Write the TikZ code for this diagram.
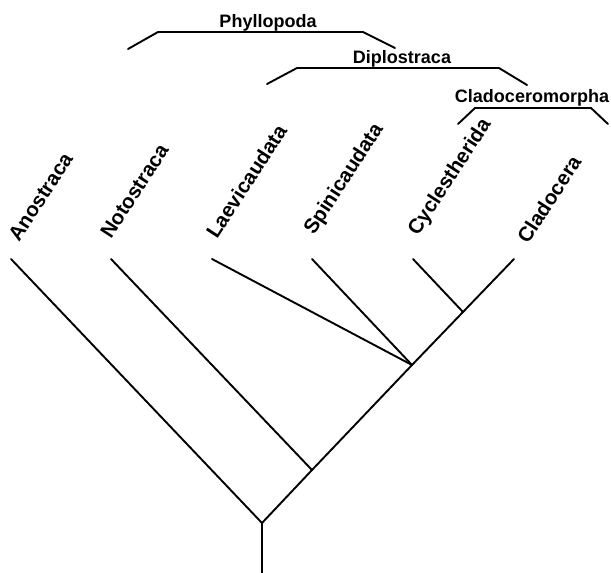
\documentclass[tikz,border=0pt]{standalone}
\usepackage{fontspec}
\setmainfont{Liberation Sans}
\usetikzlibrary{positioning, calc}

\begin{document}
\begin{tikzpicture}[x=1pt, y=-1pt, line cap=round,
    branch/.style={line width=1.9pt},
    bracket/.style={line width=1.9pt},
    taxon/.style={font=\fontsize{20.5}{24}\selectfont\bfseries, rotate=57, anchor=base west, inner sep=0pt},
    clade/.style={font=\fontsize{18}{21}\selectfont\bfseries, anchor=base, inner sep=0pt}]

    \useasboundingbox (0,0) rectangle (611,573);

    % ================= Tree =================
    \coordinate (base) at (262,573);
    \coordinate (root) at (262,523);
    \coordinate (nPhyl) at (312,470);
    \coordinate (nDipl) at (412,365);
    \coordinate (nClad) at (463,312);

    % Tips
    \coordinate (tAno) at (11,259);
    \coordinate (tNot) at (111,259);
    \coordinate (tLae) at (212,259);
    \coordinate (tSpi) at (312,259);
    \coordinate (tCyc) at (413,259);
    \coordinate (tCla) at (514,259);

    % Branches
    \draw[branch] (base) -- (root);
    \draw[branch] (root) -- (tAno);
    \draw[branch] (root) -- (nPhyl) -- (nDipl) -- (nClad) -- (tCla);
    \draw[branch] (nPhyl) -- (tNot);
    \draw[branch] (nDipl) -- (tLae);
    \draw[branch] (nDipl) -- (tSpi);
    \draw[branch] (nClad) -- (tCyc);

    % ================= Taxon labels =================
    \node[taxon] (Ano) at (19,243) {Anostraca};
    \node[taxon] (Not) at (111,240) {Notostraca};
    \node[taxon] (Lae) at (217,240) {Laevicaudata};
    \node[taxon] (Spi) at (314,236) {Spinicaudata};
    \node[taxon] (Cyc) at (418,237) {Cyclestherida};
    \node[taxon] (Cla) at (528,245) {Cladocera};

    % ================= Clade brackets =================
    % Phyllopoda
    \coordinate (pL) at (128,49);
    \coordinate (pR) at (395,48);
    \draw[bracket] (pL) -- (158,32) -- (363,32) -- (pR);
    \node[clade] (Phyl) at (268,27) {Phyllopoda};

    % Diplostraca
    \coordinate (dL) at (267,84);
    \coordinate (dR) at (527,85);
    \draw[bracket] (dL) -- (297,68) -- (499,68) -- (dR);
    \node[clade] (Dipl) at (402,63) {Diplostraca};

    % Cladoceromorpha
    \coordinate (cL) at (458,124);
    \coordinate (cR) at (608,124);
    \draw[bracket] (cL) -- (475,108) -- (591,108) -- (cR);
    \node[clade] (Clad) at (532,102) {Cladoceromorpha};

\end{tikzpicture}
\end{document}
